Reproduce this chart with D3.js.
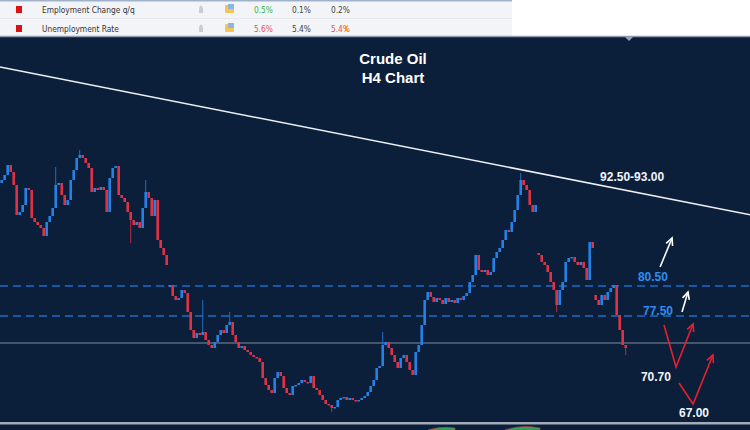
<!DOCTYPE html>
<html>
<head>
<meta charset="utf-8">
<script src="https://cdn.jsdelivr.net/npm/d3@7"></script>
<style>
  html, body { margin: 0; padding: 0; background: #fff; }
  svg { display: block; }
</style>
</head>
<body>
<svg id="chart" width="750" height="430"></svg>
<script>
// H4 closes, one every candle
const closes = [
  91.1, 91.6, 92.6, 91.9, 90.6, 87.6, 87.9, 88.6, 90.3, 90.1,
  87.3, 86.9, 86.6, 86.3, 85.5, 86.9, 87.5, 88.3, 90.6, 90.8,
  89.6, 88.6, 89.1, 91.1, 92.1, 93.3, 93.6, 93.3, 92.8, 92.3,
  89.9, 90.3, 90.1, 90.4, 90.1, 87.9, 91.3, 92.3, 92.5, 89.6,
  89.3, 88.9, 87.9, 87.1, 86.6, 86.9, 86.3, 88.3, 89.9, 89.3,
  87.5, 89.1, 85.1, 84.3, 83.6, 82.6, 80.6, 79.5, 79.1, 79.3,
  80.1, 79.8, 77.9, 76.1, 75.3, 75.8, 75.6, 75.9, 75.1, 74.6,
  74.3, 74.9, 75.6, 76.1, 75.8, 76.6, 76.9, 75.6, 74.9, 74.3,
  74.5, 74.1, 73.9, 73.6, 73.4, 73.3, 72.9, 71.3, 70.6, 70.1,
  69.8, 71.3, 71.9, 71.5, 70.3, 69.8, 69.6, 70.5, 70.6, 70.8,
  71.1, 70.9, 70.8, 71.5, 70.3, 70.1, 69.6, 69.1, 68.7, 68.6,
  68.3, 68.4, 69.1, 69.3, 69.4, 69.1, 69.3, 69.1, 69.0, 69.1,
  69.3, 69.5, 69.9, 70.5, 71.1, 72.3, 72.5, 74.6, 74.9, 74.3,
  73.6, 72.9, 72.3, 73.3, 73.6, 72.9, 72.1, 71.6, 73.9, 74.6,
  76.6, 79.1, 79.9, 79.4, 78.9, 79.3, 79.1, 78.7, 79.3, 78.9,
  79.1, 78.8, 79.3, 79.1, 79.5, 79.8, 80.9, 81.6, 83.6, 82.1,
  81.9, 82.1, 81.6, 81.9, 83.3, 83.9, 84.3, 85.1, 86.1, 85.9,
  86.9, 88.1, 89.6, 91.1, 90.6, 90.1, 88.6, 87.9, 88.6, 83.6,
  82.9, 82.6, 81.9, 80.9, 80.1, 78.6, 80.1, 80.9, 82.9, 83.3,
  83.4, 82.9, 82.6, 82.9, 82.3, 81.1, 84.9, 84.3, 79.1, 78.6,
  79.6, 79.1, 79.9, 80.3, 80.6, 77.6, 76.1, 74.6, 74.3
];

// opens after the weekend gaps
const gapOpens = [
  { i: 56, open: 80.4 },
  { i: 179, open: 83.8 },
  { i: 198, open: 79.6 }
];

// long wicks
const wicks = [
  { i: 18, high: 92.4 },
  { i: 26, high: 94.1 },
  { i: 43, low: 84.8 },
  { i: 48, high: 91.1 },
  { i: 67, high: 79.1 },
  { i: 76, high: 77.9 },
  { i: 110, low: 67.9 },
  { i: 127, high: 75.9 },
  { i: 173, high: 91.8 },
  { i: 185, low: 77.9 },
  { i: 208, low: 73.6 }
];

const dashedLevels = [80.5, 77.5];
const priceLine = 74.8;

const trendline = [{ i: 0, p: 102.4 }, { i: 250, p: 87.6 }];

const levelLabels = [
  { text: '92.50-93.00', i: 199.7, p: 91.0, color: '#f2f4f8' },
  { text: '80.50', i: 212.3, p: 81.0, color: '#2f8ef0' },
  { text: '77.50', i: 214.0, p: 77.6, color: '#2f8ef0' },
  { text: '70.70', i: 213.3, p: 71.0, color: '#f2f4f8' },
  { text: '67.00', i: 226.0, p: 67.4, color: '#f2f4f8' }
];

const whiteArrows = [
  [{ i: 219.7, p: 82.4 }, { i: 223.7, p: 85.3 }],
  [{ i: 227.0, p: 77.9 }, { i: 229.0, p: 79.9 }]
];
const redArrows = [
  [{ i: 221.0, p: 76.6 }, { i: 225.0, p: 72.4 }, { i: 230.7, p: 76.7 }],
  [{ i: 226.0, p: 70.8 }, { i: 230.7, p: 68.7 }, { i: 237.3, p: 73.6 }]
];

// calendar strip above the chart
const calendarRows = [
  { name: 'Employment Change q/q', actual: '0.5%', actualColor: '#3db54a', forecast: '0.1%', previous: '0.2%', previousColor: '#444', flag: false },
  { name: 'Unemployment Rate', actual: '5.6%', actualColor: '#e25555', forecast: '5.4%', previous: '5.4%', previousColor: '#e25555', flag: true }
];

const W = 750, H = 430;
const chartTop = 37, chartBottom = 422;

const svg = d3.select('#chart');

const x = d3.scaleLinear().domain([0, 250]).range([1, 751]);
const y = d3.scaleLinear().domain([66, 96]).range([431, 131]);

// candles table
const candles = closes.map((c, i) => {
  const g = gapOpens.find(d => d.i === i);
  const o = g ? g.open : (i === 0 ? 90.8 : closes[i - 1]);
  const w = wicks.find(d => d.i === i) || {};
  return {
    i: i, open: o, close: c,
    high: Math.max(o, c, w.high || -Infinity),
    low: Math.min(o, c, w.low || Infinity)
  };
});

const calFont = 'DejaVu Sans Condensed, DejaVu Sans, sans-serif';

// ---- top calendar panel
svg.append('rect').attr('x', 0).attr('y', 0).attr('width', W).attr('height', chartTop).attr('fill', '#ffffff');
svg.append('rect').attr('x', 0).attr('y', 0).attr('width', 512).attr('height', 36).attr('fill', '#f3f4f8');
svg.append('rect').attr('x', 0).attr('y', 0).attr('width', 512).attr('height', 1.5).attr('fill', '#9fb1cc');
svg.append('line').attr('x1', 0).attr('x2', 512).attr('y1', 18.5).attr('y2', 18.5).attr('stroke', '#e6e8ee');

const rowG = svg.selectAll('g.row')
  .data(calendarRows)
  .enter().append('g')
  .attr('class', 'row')
  .attr('transform', (d, i) => `translate(0, ${10 + i * 19})`);

rowG.append('rect').attr('x', 16).attr('y', -4).attr('width', 6).attr('height', 7).attr('fill', '#dd1111');
rowG.append('text').attr('x', 42).attr('y', 3).attr('font-family', calFont).attr('font-size', 8.3).attr('fill', '#333').text(d => d.name);
// bell
rowG.append('path').attr('d', 'M199,3 L199,0 Q199,-4 201,-4.5 Q203,-4 203,0 L203,3 Z').attr('fill', '#c9ccd3');
// folder
rowG.append('rect').attr('x', 225).attr('y', -5).attr('width', 9).attr('height', 8).attr('rx', 1).attr('fill', '#f6c453');
rowG.append('rect').attr('x', 228).attr('y', -6).attr('width', 6).attr('height', 5).attr('fill', '#8fb4e0');
rowG.append('text').attr('x', 254).attr('y', 3).attr('font-family', calFont).attr('font-size', 8.3).attr('fill', d => d.actualColor).text(d => d.actual);
rowG.append('text').attr('x', 292).attr('y', 3).attr('font-family', calFont).attr('font-size', 8.3).attr('fill', '#444').text(d => d.forecast);
rowG.append('text').attr('x', 331).attr('y', 3).attr('font-family', calFont).attr('font-size', 8.3).attr('fill', d => d.previousColor).text(d => d.previous);
rowG.filter(d => d.flag).append('rect').attr('x', 345).attr('y', -3).attr('width', 2).attr('height', 5).attr('fill', '#f2a01a');

// ---- chart background
svg.append('rect').attr('x', 0).attr('y', 36).attr('width', W).attr('height', H - 36).attr('fill', '#0b1f3b');
svg.append('line').attr('x1', 0).attr('x2', W).attr('y1', 36.5).attr('y2', 36.5).attr('stroke', '#8e9aab').attr('stroke-width', 1.5);
svg.append('path').attr('d', 'M625,37 L633,37 L629,41 Z').attr('fill', '#9aa4b3');

// title
svg.append('text').attr('x', 393).attr('y', 64).attr('text-anchor', 'middle')
  .attr('font-family', 'Liberation Sans, Arial, sans-serif').attr('font-weight', 'bold').attr('font-size', 15)
  .attr('fill', '#ffffff').text('Crude Oil');
svg.append('text').attr('x', 393).attr('y', 83).attr('text-anchor', 'middle')
  .attr('font-family', 'Liberation Sans, Arial, sans-serif').attr('font-weight', 'bold').attr('font-size', 15)
  .attr('fill', '#ffffff').text('H4 Chart');

// level lines
svg.selectAll('line.level')
  .data(dashedLevels)
  .enter().append('line')
  .attr('class', 'level')
  .attr('x1', 0).attr('x2', W)
  .attr('y1', d => y(d)).attr('y2', d => y(d))
  .attr('stroke', '#1e6ec8').attr('stroke-width', 1.3).attr('stroke-dasharray', '8,5');

svg.append('line')
  .attr('x1', 0).attr('x2', W)
  .attr('y1', y(priceLine)).attr('y2', y(priceLine))
  .attr('stroke', '#7f8c9f').attr('stroke-width', 1);

// candles
const candleG = svg.append('g').attr('class', 'candles');
const colorOf = d => d.close >= d.open ? '#2382e6' : '#dc3347';

candleG.selectAll('line.wick')
  .data(candles)
  .enter().append('line')
  .attr('class', 'wick')
  .attr('x1', d => x(d.i) + 0.7).attr('x2', d => x(d.i) + 0.7)
  .attr('y1', d => y(d.high)).attr('y2', d => y(d.low))
  .attr('stroke', colorOf).attr('stroke-width', 1).attr('opacity', 0.8);

candleG.selectAll('rect')
  .data(candles)
  .enter().append('rect')
  .attr('x', d => x(d.i) - 0.6)
  .attr('width', 2.6)
  .attr('y', d => y(Math.max(d.open, d.close)))
  .attr('height', d => Math.max(1.5, Math.abs(y(d.open) - y(d.close))))
  .attr('fill', colorOf);

// trendline
svg.append('line')
  .attr('x1', x(trendline[0].i) - 1).attr('y1', y(trendline[0].p))
  .attr('x2', x(trendline[1].i)).attr('y2', y(trendline[1].p))
  .attr('stroke', '#eef0f4').attr('stroke-width', 1.6);

// arrows
const line = d3.line().x(d => x(d.i)).y(d => y(d.p));
function arrowHead(pts, color) {
  const a = pts[pts.length - 2], b = pts[pts.length - 1];
  const x1 = x(a.i), y1 = y(a.p), x2 = x(b.i), y2 = y(b.p);
  const ang = Math.atan2(y2 - y1, x2 - x1);
  const len = 8, spread = 0.45;
  const p1 = [x2 - len * Math.cos(ang - spread), y2 - len * Math.sin(ang - spread)];
  const p2 = [x2 - len * Math.cos(ang + spread), y2 - len * Math.sin(ang + spread)];
  svg.append('path')
    .attr('d', `M${p1[0]},${p1[1]} L${x2},${y2} L${p2[0]},${p2[1]}`)
    .attr('fill', 'none').attr('stroke', color).attr('stroke-width', 1.6);
}
whiteArrows.forEach(pts => {
  svg.append('path').attr('d', line(pts)).attr('fill', 'none').attr('stroke', '#ffffff').attr('stroke-width', 1.6);
  arrowHead(pts, '#ffffff');
});
redArrows.forEach(pts => {
  svg.append('path').attr('d', line(pts)).attr('fill', 'none').attr('stroke', '#e8202c').attr('stroke-width', 1.6);
  arrowHead(pts, '#e8202c');
});

// level labels
svg.selectAll('text.lbl')
  .data(levelLabels)
  .enter().append('text')
  .attr('class', 'lbl')
  .attr('x', d => x(d.i)).attr('y', d => y(d.p))
  .attr('font-family', 'Liberation Sans, Arial, sans-serif').attr('font-weight', 'bold').attr('font-size', 12)
  .attr('fill', d => d.color).text(d => d.text);

// bottom separator and indicator pane
svg.append('rect').attr('x', 0).attr('y', chartBottom).attr('width', W).attr('height', 2.5).attr('fill', '#a3acb8');
svg.append('path').attr('d', 'M428,430 Q440,426 455,428 L455,430 Z').attr('fill', '#2fa35a').attr('stroke', '#c0404a').attr('stroke-width', 0.6);
svg.append('path').attr('d', 'M505,430 Q522,424 540,428 L540,430 Z').attr('fill', '#2fa35a').attr('stroke', '#c0404a').attr('stroke-width', 0.6);
</script>
</body>
</html>
